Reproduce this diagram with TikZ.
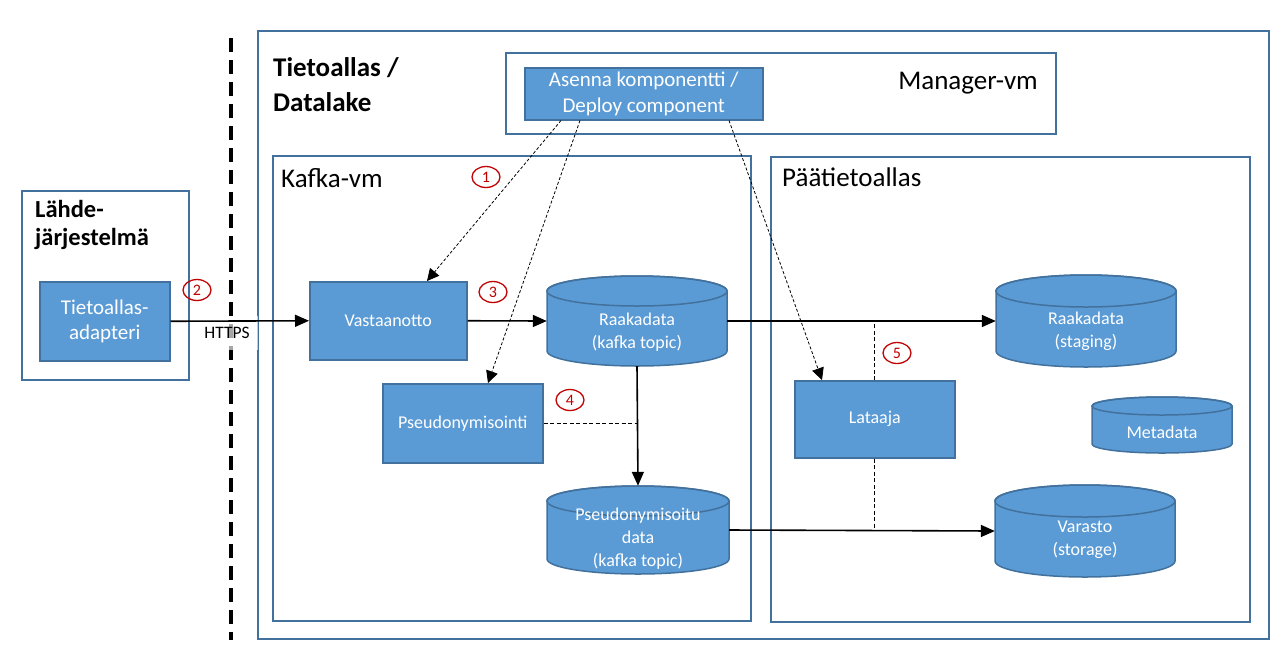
\documentclass[tikz,border=0pt]{standalone}
\usepackage{fontspec}
\setmainfont{Carlito}
\usetikzlibrary{arrows.meta,calc,shapes.geometric}
\definecolor{boxfill}{HTML}{5B9BD5}
\definecolor{boxline}{HTML}{41719C}
\definecolor{numred}{HTML}{C00000}
\newcommand\fsz[2]{\fontsize{#1}{#2}\selectfont}
\newcommand\cyl[6]{%
  \path[fill=boxfill, draw=boxline, line width=1.5pt]
    ({#2-#4},{#3-#5+#6}) -- ({#2-#4},{#3+#5-#6})
    arc[start angle=180,end angle=360,x radius=#4pt,y radius=#6pt]
    -- ({#2+#4},{#3-#5+#6})
    arc[start angle=0,end angle=180,x radius=#4pt,y radius=#6pt] -- cycle;
  \draw[boxline, line width=1.5pt] (#2,{#3-#5+#6}) ellipse[x radius=#4pt, y radius=#6pt];
  \node[minimum width={2*#4pt}, minimum height={2*#5pt}, inner sep=0pt] (#1) at (#2,#3) {};
}
\tikzset{
  frame/.style={draw=boxline, line width=1.5pt, inner sep=0pt, anchor=north west},
  blk/.style={draw=boxline, line width=1.5pt, fill=boxfill, text=white, inner sep=0pt,
    align=center, anchor=north west, font=\fsz{18}{22}},
  wtxt/.style={text=white, align=center, inner sep=0pt, font=\fsz{18}{23}},
  num/.style={draw=numred, line width=1.3pt, shape=ellipse, minimum width=28pt,
    minimum height=21pt, inner sep=0pt, text=numred, font=\fsz{16}{19}},
  flow/.style={line width=1.6pt, -{Triangle[length=14pt,width=12pt]}},
  dep/.style={line width=0.8pt, dash pattern=on 3pt off 2pt, -{Triangle[length=12pt,width=12pt]}},
  tie/.style={line width=0.8pt, dash pattern=on 4pt off 2.5pt},
  lbl/.style={inner sep=0pt, text=black}
}
\begin{document}
\begin{tikzpicture}[x=1pt,y=-1pt]
\useasboundingbox (0,0) rectangle (1277,649);
% frames
\node[frame, minimum width=1011pt, minimum height=608pt] (lake) at (257,30) {};
\node[frame, minimum width=550pt, minimum height=81pt] (mgr) at (505,52) {};
\node[frame, minimum width=478pt, minimum height=465pt] (kafka) at (272,155) {};
\node[frame, minimum width=479pt, minimum height=465pt] (paa) at (770,156) {};
\node[frame, minimum width=167pt, minimum height=189pt] (src) at (21,190) {};
% frame labels
\node[lbl, anchor=base west, font=\bfseries\fsz{27}{35}, align=left] (lakel) at (273,111) {Tietoallas /\\Datalake};
\node[lbl, anchor=base west, font=\bfseries\fsz{24.5}{28}, align=left] (srcl) at (35,245) {Lähde-\\järjestelmä};
\node[lbl, anchor=base, font=\fsz{27}{33}] (mgrl) at (968,89) {Manager-vm};
\node[lbl, anchor=base west, font=\fsz{27}{33}] (kafkal) at (281,187) {Kafka-vm};
\node[lbl, anchor=base west, font=\fsz{27}{33}] (paal) at (782,186) {Päätietoallas};
% separator
\draw[line width=3.5pt, dash pattern=on 14pt off 8pt] (231,38) coordinate (sepa) -- (231,640) coordinate (sepb);
% blocks
\node[blk, minimum width=238pt, minimum height=52pt, font=\fsz{21}{26}] (dep) at (524,67) {Asenna komponentti /\\Deploy component};
\node[blk, minimum width=130pt, minimum height=79pt, font=\fsz{21}{25}] (adapt) at (39,281) {Tietoallas-\\adapteri};
\node[blk, minimum width=157pt, minimum height=78pt] (vast) at (309,281) {Vastaanotto};
\node[blk, minimum width=160pt, minimum height=79pt] (pseu) at (382,383) {Pseudonymisointi};
\node[blk, minimum width=160pt, minimum height=77pt] (lat) at (794,380) {Lataaja};
% cylinders
\cyl{rk}{637}{321}{90}{45}{15}
\cyl{pk}{638}{530}{91}{44}{15}
\cyl{st}{1086}{321}{90}{46}{16}
\cyl{md}{1162}{425}{70}{28}{9}
\cyl{vr}{1085}{531}{90}{46}{16}
\node[wtxt] (rkt) at (637,332) {Raakadata\\(kafka topic)};
\node[wtxt] (pkt) at (638,539) {Pseudonymisoitu\\data\\(kafka topic)};
\node[wtxt] (stt) at (1086,331) {Raakadata\\(staging)};
\node[wtxt] (mdt) at (1162,432) {Metadata};
\node[wtxt] (vrt) at (1085,540) {Varasto\\(storage)};
% HTTPS label background
\node[fill=white, fill opacity=0.65, text opacity=1, minimum width=60pt, minimum height=34pt, inner sep=0pt] (https) at (228,333) {};
\node[lbl, anchor=base, font=\fsz{17.5}{20}] (httpst) at (227,338) {HTTPS};
% flows
\draw[flow] (adapt.east) -- (vast.west);
\draw[flow] (vast.east) -- (rk.west);
\draw[flow] (rk.east) -- (st.west);
\draw[flow] (rk.south) -- (pk.north);
\draw[flow] (pk.east) -- (vr.west);
% ties
\draw[tie] (pseu.east) -- (pseu.east -| rk.south);
\draw[tie] (lat.north) -- (lat.north |- rk.east);
\draw[tie] (lat.south) -- (lat.south |- pk.east);
% deploy arrows
\draw[dep] ([xshift=37pt]dep.south west) -- ([xshift=118pt]vast.north west);
\draw[dep] ([xshift=56pt]dep.south west) -- ([xshift=106pt]pseu.north west);
\draw[dep] ([xshift=205pt]dep.south west) -- ([xshift=28pt]lat.north west);
% numbers
\node[num] (n1) at (486,177) {1};
\node[num] (n2) at (197,290) {2};
\node[num] (n3) at (493,292) {3};
\node[num] (n4) at (570,400) {4};
\node[num] (n5) at (897,353) {5};
\end{tikzpicture}
\end{document}
